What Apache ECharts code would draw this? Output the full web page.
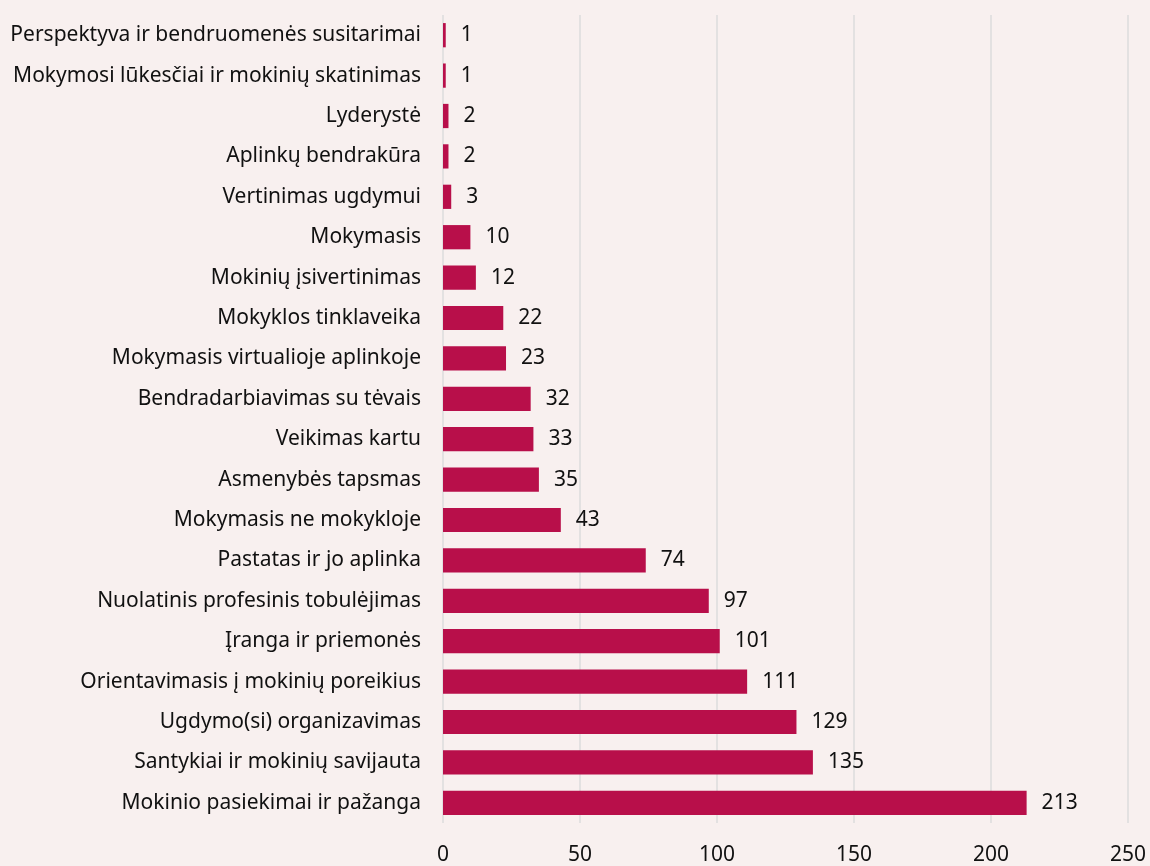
<!DOCTYPE html>
<html><head><meta charset="utf-8">
<script src="https://cdn.jsdelivr.net/npm/echarts@6/dist/echarts.min.js"></script>
<style>html,body{margin:0;padding:0;background:#f8f0ef;}#c{width:1150px;height:866px;}</style>
</head><body><div id="c"></div>
<script>
const categories = ["Perspektyva ir bendruomenės susitarimai","Mokymosi lūkesčiai ir mokinių skatinimas","Lyderystė","Aplinkų bendrakūra","Vertinimas ugdymui","Mokymasis","Mokinių įsivertinimas","Mokyklos tinklaveika","Mokymasis virtualioje aplinkoje","Bendradarbiavimas su tėvais","Veikimas kartu","Asmenybės tapsmas","Mokymasis ne mokykloje","Pastatas ir jo aplinka","Nuolatinis profesinis tobulėjimas","Įranga ir priemonės","Orientavimasis į mokinių poreikius","Ugdymo(si) organizavimas","Santykiai ir mokinių savijauta","Mokinio pasiekimai ir pažanga"];
const values = [1,1,2,2,3,10,12,22,23,32,33,35,43,74,97,101,111,129,135,213];
const chart = echarts.init(document.getElementById('c'));
const font = '"Noto Sans", sans-serif';
chart.setOption({
  backgroundColor: '#f8f0ef',
  animation: false,
  grid: {left: 443, right: 22, top: 15, bottom: 42, containLabel: false},
  xAxis: {type: 'value', min: 0, max: 250, interval: 50,
    axisLine: {show: false}, axisTick: {show: false},
    splitLine: {lineStyle: {color: '#dcdcdc', width: 1.5}},
    axisLabel: {color: '#111', fontSize: 21, fontFamily: font, margin: 22}},
  yAxis: {type: 'category', data: categories, inverse: true,
    axisLine: {show: false}, axisTick: {show: false},
    axisLabel: {color: '#111', fontSize: 21, fontFamily: font, margin: 22}},
  series: [{type: 'bar', data: values, barWidth: '60%',
    itemStyle: {color: '#b80f4a'},
    label: {show: true, position: 'right', distance: 15, color: '#111', fontSize: 21, fontFamily: font}}]
});
</script></body></html>
